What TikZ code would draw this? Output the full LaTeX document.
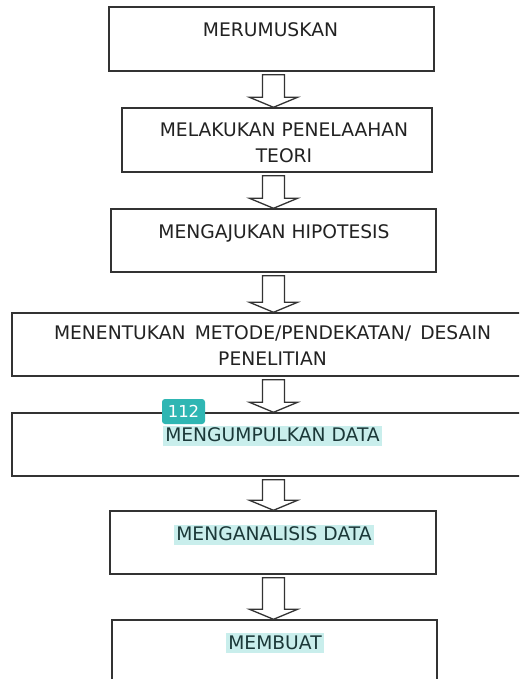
\documentclass[tikz,border=0pt]{standalone}
\usepackage{fontspec}
\setmainfont{DejaVu Sans}
\usetikzlibrary{calc}
\definecolor{boxline}{HTML}{333333}
\definecolor{txt}{HTML}{222222}
\definecolor{hl}{HTML}{C9EEEC}
\definecolor{hltxt}{HTML}{1B3838}
\definecolor{badge}{HTML}{2FB6B3}
\newcommand\flowarrow[2]{%
  \draw[arrowline] let \p1=(#1.south), \p2=(#2.north) in
    (262.5pt,\y1-3pt) -- (262.5pt,\y2+10pt) -- (249.5pt,\y2+10pt) -- (273.5pt,\y2)
    -- (297.5pt,\y2+10pt) -- (284.5pt,\y2+10pt) -- (284.5pt,\y1-3pt) -- cycle;}
\begin{document}
\begin{tikzpicture}[x=1pt,y=-1pt,
  box/.style={draw=boxline,line width=1.4pt,inner sep=0pt},
  arrowline/.style={draw=boxline,line width=1.3pt,fill=white,line join=miter},
  label/.style={anchor=base,inner sep=0pt,text=txt,font=\fontsize{18.7}{22}\selectfont},
  hlabel/.style={anchor=base,inner xsep=2pt,inner ysep=0pt,fill=hl,text=hltxt,
     text height=15.7pt,text depth=4.3pt,font=\fontsize{18.7}{22}\selectfont},
  badgebox/.style={fill=badge,rounded corners=3pt,text=white,inner sep=0pt,
     minimum width=43pt,minimum height=25pt,font=\fontsize{16.5}{18}\selectfont}]
\path[use as bounding box,clip] (0,0) rectangle (519,679);
\fill[white] (0,0) rectangle (519,679);

\node[box,minimum width=325pt,minimum height=64pt] (b1) at (271.5,39) {};
\node[box,minimum width=310pt,minimum height=64pt] (b2) at (277,140) {};
\node[box,minimum width=325pt,minimum height=63pt] (b3) at (273.5,240.5) {};
\node[box,minimum width=518pt,minimum height=63pt] (b4) at (271,344.5) {};
\node[box,minimum width=518pt,minimum height=63pt] (b5) at (271,444.5) {};
\node[box,minimum width=326pt,minimum height=63pt] (b6) at (273,542.5) {};
\node[box,minimum width=325pt,minimum height=80pt] (b7) at (274.5,660) {};

\node[label] (t1) at (270.5,36.5) {MERUMUSKAN};
\node[label] (t2a) at (284,136.5) {MELAKUKAN PENELAAHAN};
\node[label] (t2b) at (284,163) {TEORI};
\node[label] (t3) at (274,238.5) {MENGAJUKAN HIPOTESIS};
\node[label] (t4a) at (272.5,339.5) {\spaceskip=9.2pt MENENTUKAN METODE/PENDEKATAN/ DESAIN};
\node[label] (t4b) at (272.5,365.5) {PENELITIAN};
\node[hlabel] (t5) at (272.5,441.7) {MENGUMPULKAN DATA};
\node[hlabel] (t6) at (274,540.7) {MENGANALISIS DATA};
\node[hlabel] (t7) at (275,649) {MEMBUAT};

\flowarrow{b1}{b2}
\flowarrow{b2}{b3}
\flowarrow{b3}{b4}
\flowarrow{b4}{b5}
\flowarrow{b5}{b6}
\flowarrow{b6}{b7}

\node[badgebox] (badge) at (183.5,411.5) {112};
\end{tikzpicture}
\end{document}
